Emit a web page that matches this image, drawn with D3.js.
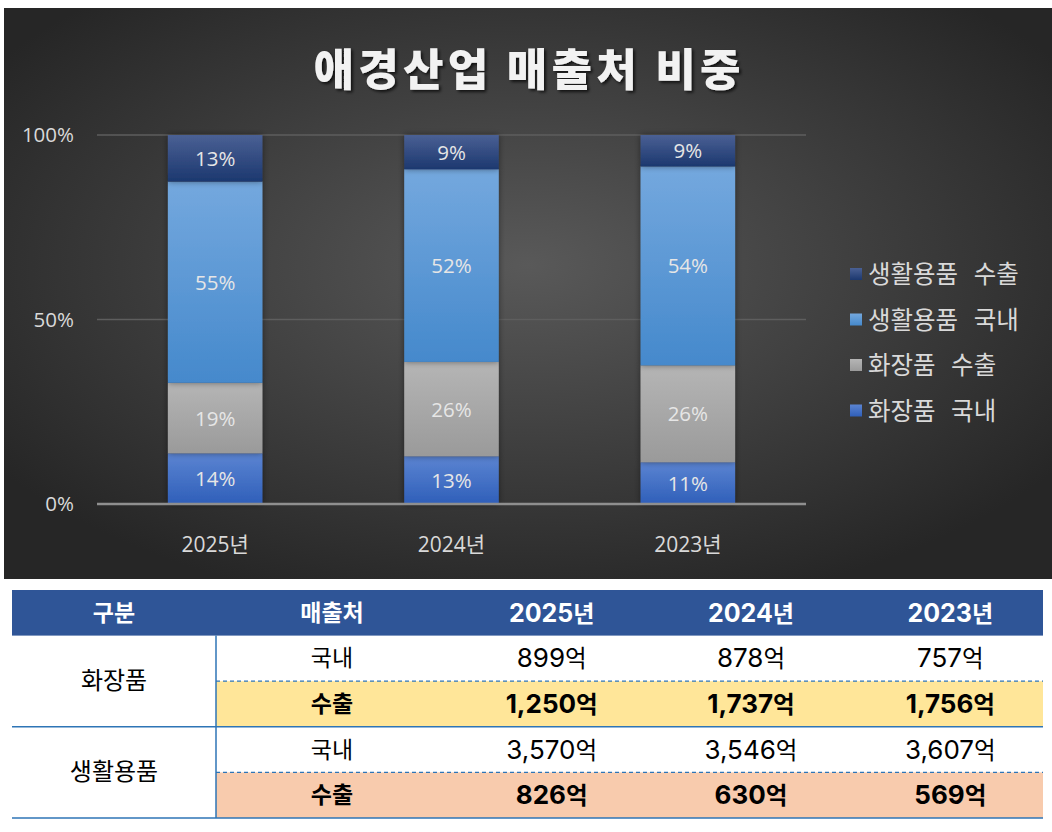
<!DOCTYPE html>
<html><head><meta charset="utf-8">
<script src="https://cdn.jsdelivr.net/npm/d3@7"></script>
<style>
html,body{margin:0;padding:0;background:#fff;}
svg{display:block;}
</style></head>
<body>
<script>
const years = ["2025년", "2024년", "2023년"];
const seriesNames = ["화장품 국내", "화장품 수출", "생활용품 국내", "생활용품 수출"];
const cosmeticsDomestic = [899, 878, 757];
const cosmeticsExport = [1250, 1737, 1756];
const householdDomestic = [3570, 3546, 3607];
const householdExport = [826, 630, 569];
const yTicks = [0, 0.5, 1];
const chartTitle = "애경산업 매출처 비중";
const tableHeaders = ["구분", "매출처"];
const groupNames = ["화장품", "생활용품"];
const channelNames = ["국내", "수출"];
const unit = "억";

const W = 1052, H = 832;
const svg = d3.select("body").append("svg").attr("width", W).attr("height", H);
const defs = svg.append("defs");

const bg = defs.append("radialGradient").attr("id", "bg")
  .attr("cx", "50%").attr("cy", "45%").attr("r", "62%");
bg.append("stop").attr("offset", "0%").attr("stop-color", "#595959");
bg.append("stop").attr("offset", "100%").attr("stop-color", "#262626");

const seriesColors = [
  ["#5b84d2", "#2f5fb9"],
  ["#b5b5b5", "#9a9a9a"],
  ["#74a8de", "#4589cc"],
  ["#4a6094", "#1c386f"]
];
seriesColors.forEach((c, i) => {
  const g = defs.append("linearGradient").attr("id", "g" + i)
    .attr("x1", 0).attr("y1", 0).attr("x2", 0).attr("y2", 1);
  g.append("stop").attr("offset", "0%").attr("stop-color", c[0]);
  g.append("stop").attr("offset", "100%").attr("stop-color", c[1]);
});
const sh = defs.append("filter").attr("id", "sh").attr("x", "-20%").attr("y", "-20%").attr("width", "140%").attr("height", "140%");
sh.append("feDropShadow").attr("dx", 0).attr("dy", 0).attr("stdDeviation", 3).attr("flood-color", "#000").attr("flood-opacity", 0.45);
const tsh = defs.append("filter").attr("id", "tsh").attr("x", "-10%").attr("y", "-30%").attr("width", "120%").attr("height", "160%");
tsh.append("feDropShadow").attr("dx", 2).attr("dy", 2).attr("stdDeviation", 1.5).attr("flood-color", "#000").attr("flood-opacity", 0.7);

svg.append("rect").attr("x", 4).attr("y", 8).attr("width", 1048).attr("height", 571).attr("fill", "url(#bg)");

svg.append("text").attr("x", 527).attr("y", 86).attr("text-anchor", "middle")
  .attr("font-family", "'Noto Sans CJK KR'").attr("font-weight", 900)
  .attr("font-size", 44).attr("fill", "#f2f2f2").attr("filter", "url(#tsh)")
  .attr("textLength", 427).attr("lengthAdjust", "spacing")
  .text(chartTitle);

const rows = years.map((y, i) => ({
  year: y,
  [seriesNames[0]]: cosmeticsDomestic[i],
  [seriesNames[1]]: cosmeticsExport[i],
  [seriesNames[2]]: householdDomestic[i],
  [seriesNames[3]]: householdExport[i]
}));
const stack = d3.stack().keys(seriesNames).offset(d3.stackOffsetExpand);
const stacked = stack(rows);

const x = d3.scaleBand().domain(years).range([97, 806]).paddingInner(0.6).paddingOuter(0.3);
const y = d3.scaleLinear().domain([0, 1]).range([504, 135]);
const lf = "'Open Sans', 'Noto Sans CJK KR'";

svg.append("g").selectAll("line").data(yTicks.filter(t => t > 0)).join("line")
  .attr("x1", 97).attr("x2", 806).attr("y1", d => y(d)).attr("y2", d => y(d))
  .attr("stroke", "#5e5e5e").attr("stroke-width", 1.5);

const yAxis = d3.axisLeft(y).tickValues(yTicks).tickFormat(d3.format(".0%")).tickSize(0).tickPadding(0);
const yg = svg.append("g").attr("transform", "translate(74,0)").call(yAxis);
yg.select(".domain").remove();
yg.selectAll("text").attr("font-family", lf).attr("font-size", 20.5).attr("fill", "#d9d9d9");

const barG = svg.append("g");
stacked.forEach((s, i) => {
  barG.append("g").selectAll("rect").data(s).join("rect")
    .attr("x", d => x(d.data.year)).attr("width", x.bandwidth())
    .attr("y", d => y(d[1])).attr("height", d => y(d[0]) - y(d[1]))
    .attr("fill", "url(#g" + i + ")").attr("filter", "url(#sh)");
});
stacked.forEach((s, i) => {
  barG.append("g").selectAll("text").data(s).join("text")
    .attr("x", d => x(d.data.year) + x.bandwidth() / 2)
    .attr("y", d => (y(d[0]) + y(d[1])) / 2 + 7.5)
    .attr("text-anchor", "middle")
    .attr("font-family", lf).attr("font-size", 20.5)
    .attr("fill", "#e6e6e6")
    .text(d => d3.format(".0%")(d[1] - d[0]));
});

svg.append("line").attr("x1", 97).attr("x2", 806).attr("y1", y(0)).attr("y2", y(0))
  .attr("stroke", "#8f8f8f").attr("stroke-width", 2.5);
const xAxis = d3.axisBottom(x).tickSize(0).tickPadding(0);
const xg = svg.append("g").attr("transform", "translate(0,552)").call(xAxis);
xg.select(".domain").remove();
xg.selectAll("text").attr("dy", 0).attr("font-family", lf).attr("font-size", 21).attr("fill", "#d9d9d9");

const legendOrder = seriesNames.map((n, i) => ({ n, i })).reverse();
const lg = svg.append("g").selectAll("g").data(legendOrder).join("g")
  .attr("transform", (d, k) => `translate(850,${274 + k * 45.5})`);
lg.append("rect").attr("x", 0).attr("y", -6).attr("width", 12).attr("height", 12)
  .attr("fill", d => "url(#g" + d.i + ")");
lg.append("text").attr("x", 18).attr("y", 9).attr("font-family", "'Noto Sans CJK KR'")
  .attr("font-size", 24.5).attr("fill", "#d9d9d9").attr("word-spacing", 10)
  .text(d => d.n);

// ---------- table ----------
const tX0 = 12, tX1 = 1043, colDiv = 216;
const rowY = d3.scaleBand().domain(d3.range(5)).range([590, 818]);
const colVal = d3.scaleBand().domain(years).range([452, 1050]);
const kf = "'Noto Sans CJK KR'";
const nf = "Inter, 'Noto Sans CJK KR'";
const tbl = svg.append("g");

function numUnit(sel, num, u, numSize, uSize) {
  sel.append("tspan").attr("font-family", nf).attr("font-size", numSize).text(num);
  sel.append("tspan").attr("font-family", kf).attr("font-size", uSize).text(u);
}

tbl.append("rect").attr("x", tX0).attr("y", rowY(0)).attr("width", tX1 - tX0).attr("height", rowY.bandwidth()).attr("fill", "#2f5597");
const hy = rowY(0) + rowY.bandwidth() / 2 + 8;
[{ t: tableHeaders[0], x: 114 }, { t: tableHeaders[1], x: 332 }].forEach(c => {
  tbl.append("text").attr("x", c.x).attr("y", hy).attr("text-anchor", "middle")
    .attr("font-family", kf).attr("font-weight", 700).attr("font-size", 23).attr("fill", "#fff").text(c.t);
});
years.forEach(yv => {
  const t = tbl.append("text").attr("x", colVal(yv) + colVal.bandwidth() / 2).attr("y", hy + 1)
    .attr("text-anchor", "middle").attr("font-weight", 700).attr("fill", "#fff");
  numUnit(t, yv.replace("년", ""), "년", 25, 23);
});

const tableData = [
  { g: 0, c: 0, vals: cosmeticsDomestic, fill: null },
  { g: 0, c: 1, vals: cosmeticsExport, fill: "#ffe699" },
  { g: 1, c: 0, vals: householdDomestic, fill: null },
  { g: 1, c: 1, vals: householdExport, fill: "#f8cbad" }
];
tableData.forEach((r, k) => {
  const yTop = rowY(k + 1), h = rowY.bandwidth();
  if (r.fill) tbl.append("rect").attr("x", colDiv).attr("y", yTop).attr("width", tX1 - colDiv).attr("height", h).attr("fill", r.fill);
  const bold = r.c === 1 ? 700 : 400;
  tbl.append("text").attr("x", 332).attr("y", yTop + h / 2 + 8).attr("text-anchor", "middle")
    .attr("font-family", kf).attr("font-weight", bold).attr("font-size", 23).attr("fill", "#000")
    .text(channelNames[r.c]);
  tbl.append("g").selectAll("text").data(r.vals).join("text")
    .attr("x", (v, j) => colVal(years[j]) + colVal.bandwidth() / 2).attr("y", yTop + h / 2 + 9)
    .attr("text-anchor", "middle").attr("font-weight", bold).attr("fill", "#000")
    .each(function (v) { numUnit(d3.select(this), d3.format(",")(v), unit, 26, 23.5); });
});
groupNames.forEach((g, k) => {
  tbl.append("text").attr("x", 114).attr("y", rowY(2 * k + 2) + 8).attr("text-anchor", "middle")
    .attr("font-family", kf).attr("font-size", 24).attr("fill", "#000").text(g);
});
tbl.append("line").attr("x1", colDiv).attr("x2", colDiv).attr("y1", rowY(1)).attr("y2", rowY(4) + rowY.bandwidth())
  .attr("stroke", "#2e75b6").attr("stroke-width", 1.5);
[rowY(3), rowY(4) + rowY.bandwidth()].forEach(yy => {
  tbl.append("line").attr("x1", tX0).attr("x2", tX1).attr("y1", yy).attr("y2", yy)
    .attr("stroke", "#2e75b6").attr("stroke-width", 1.5);
});
[rowY(2), rowY(4)].forEach(yy => {
  tbl.append("line").attr("x1", colDiv).attr("x2", tX1).attr("y1", yy).attr("y2", yy)
    .attr("stroke", "#2e75b6").attr("stroke-width", 1.2).attr("stroke-dasharray", "4,3");
});
</script>
</body></html>
